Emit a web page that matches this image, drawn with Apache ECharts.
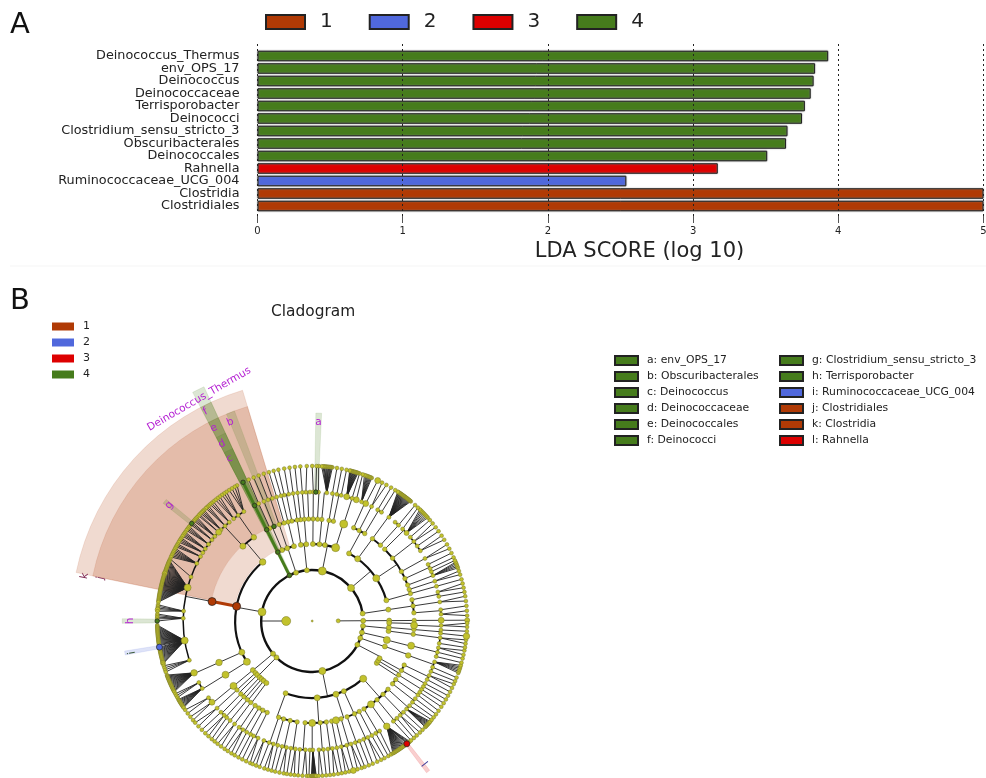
<!DOCTYPE html>
<html>
<head>
<meta charset="UTF-8">
<title>LDA score and cladogram</title>
<style>
  html, body { margin: 0; padding: 0; background: #fff; }
  #chart { width: 986px; height: 778px; }
</style>
<script src="https://cdn.jsdelivr.net/npm/echarts@6/dist/echarts.min.js"></script>
</head>
<body>
<div id="chart"></div>
<script>
// panel A
var barCategories = ['Deinococcus_Thermus','env_OPS_17','Deinococcus','Deinococcaceae','Terrisporobacter','Deinococci','Clostridium_sensu_stricto_3','Obscuribacterales','Deinococcales','Rahnella','Ruminococcaceae_UCG_004','Clostridia','Clostridiales'];
var barValues = [3.93,3.84,3.83,3.81,3.77,3.75,3.65,3.64,3.51,3.17,2.54,5,5];
var barGroups = ['4','4','4','4','4','4','4','4','4','3','2','1','1'];
var groupNames = ['1','2','3','4'];
var groupColors = ['#b03a05','#5068dc','#dd0000','#467c1c'];
var scoreTicks = [0,1,2,3,4,5];

// panel B legend
var cladeLegendLeft = ['a: env_OPS_17','b: Obscuribacterales','c: Deinococcus','d: Deinococcaceae','e: Deinococcales','f: Deinococci'];
var cladeLegendRight = ['g: Clostridium_sensu_stricto_3','h: Terrisporobacter','i: Ruminococcaceae_UCG_004','j: Clostridiales','k: Clostridia','l: Rahnella'];
var cladeLegendLeftColors = [3,3,3,3,3,3];
var cladeLegendRightColors = [3,3,1,0,0,2];

// radius of each taxonomic level (root .. genus), angle in degrees ccw from east
var levelRadius = [0,26,51,77,102,129,155];

// every row: [parent angle, [child angles]]
var kingdomRows = [[0,[180,0.3]]];
var phylumRows = [[180,[8.5,40.4,78.6,96,108.5,116.5,169.7,219.8,225.5,281.5,332.3,340.5,347,354.5]],[0.3,[0.3]]];
var classRows = [
  [8.5,[8.5]],[0.3,[0.3]],[354.5,[352.5,355.2,358.6]],[347,[345.7]],[340.5,[340.7]],[332.3,[327,329,331]],
  [40.4,[15.6,33.7,53.8,61.4]],[78.6,[72.3,80.5,84.6,89.5]],[96,[94.4,98.5]],[108.5,[103.7,108.9,113]],[116.5,[116.5]],
  [169.7,[130,169,204,212]],[219.8,[219.6,222.5]],[225.5,[224.5,227,229,231,233.5]],[281.5,[249.8,273.7,288,294.3,311.5]]
];
var orderRows = [
  [8.5,[4.6,8.5,12]],[0.3,[0.3]],[352.5,[352.5]],[355.2,[355.2]],[358.6,[357.6]],[345.7,[346]],[340.7,[340.3]],
  [331,[331,334.4]],[329,[328]],[327,[322,325]],[15.6,[15.6,18]],[33.7,[20.6,24.6,29,38,44.7]],[53.8,[48,53.8]],[61.4,[59,62.6,66]],
  [72.3,[72]],[80.5,[78,80.5]],[84.6,[84.6]],[89.5,[87,89.5,92]],[94.4,[94.4,96.5]],[98.5,[98.5,101.5]],[103.7,[103.7]],
  [108.9,[106,108.9]],[113,[112,114.5]],[116.5,[116.5]],[130,[124.9,132.8]],[169,[169]],[204,[204]],[212,[211.8]],
  [219.6,[219.5,222.5]],[222.5,[225.6]],[224.5,[228]],[227,[230.5]],[229,[233]],[231,[236]],[233.5,[238.5,241,243.8]],
  [249.8,[250.8,253.7,257.5,261.5]],[273.7,[266,270,274.5,278]],[288,[281,283.5,286.5]],[294.3,[290,294.5,297.5]],[311.5,[300.5,305.2,309.5,314,318]]
];
var familyRows = [
  [0.3,[0.3]],[4.6,[3,5]],[8.5,[8.5]],[12,[11,13]],[15.6,[15.6]],[18,[18]],[20.6,[20.6,22.5]],[24.6,[24,26]],[29,[29]],
  [38,[33,35.5,38,40.5]],[44.7,[43,45.5]],[48,[48,50]],[53.8,[53.5]],[59,[57.5,59.5]],[62.6,[62.6]],[66,[65.5,67.5]],
  [72,[70,72,74.5]],[78,[77,79]],[80.5,[81]],[84.6,[83.5]],[87,[87.2,88.4]],[89.5,[89.5]],[92,[91,92.8]],[94.4,[94.4]],
  [96.5,[96.5]],[98.5,[98.5]],[101.5,[100.5,102.5]],[103.7,[104]],[106,[106]],[108.9,[108,110]],[112,[112]],[114.5,[114.5]],[116.5,[116.5]],
  [124.9,[122,125,127.5]],[132.8,[130,132.5,135,136.5,139,141,143.5,146,148]],
  [169,[150,153.5,160,165,175.6,178.8,188.7,197.7]],[204,[203.7]],[211.8,[208.5,211.5]],[219.5,[216.5,219]],[222.5,[222.5]],
  [225.6,[225,227]],[228,[228.5]],[230.5,[230.5]],[233,[233]],[236,[235.5,237.5]],[238.5,[239.5]],[241,[241.5]],[243.8,[243,245.2]],
  [250.8,[248,250.5,252.5]],[253.7,[254.5]],[257.5,[256.5,258.5]],[261.5,[260.5,262.5]],[266,[264.5,267]],[270,[269,270.3]],
  [274.5,[273,275]],[278,[277,279]],[281,[281]],[283.5,[283,285.5]],[286.5,[287.5]],[290,[289.5,291.5]],[294.5,[293.5,295.5]],
  [297.5,[297.5]],[300.5,[299.5,301.5]],[305.2,[305.3]],[309.5,[309,311]],[314,[313,315]],[318,[317,319]],[322,[321,323]],
  [325,[325,326.5]],[328,[328,329.5]],[331,[331]],[334.4,[333,335]],[340.3,[337,339,341.5]],[346,[344,346,348]],[352.5,[350,352.5]],
  [355.2,[354.5,356]],[357.6,[358]]
];
var genusRows = [
  [0.3,[0.3]],[3,[2,3.8]],[5,[5.6]],[8.5,[7.4,9.2]],[11,[10.8]],[13,[12.4,14]],[15.6,[15.6]],[18,[17.4,18.8]],
  [20.6,[20,20.6,21.2,21.8,22.3]],[22.5,[23]],[24,[24.2]],[26,[26]],[29,[27.8,29.6]],[33,[31.6,33.4]],[35.5,[35.4]],
  [38,[37.2,39]],[40.5,[40.6]],[43,[41.8,42.4,43,43.6,44.2,44.8,45.4,46]],[45.5,[47]],[48,[48.4]],
  [53.5,[50.5,50.8,51.1,51.4,51.7,52,52.3,52.6,52.9,53.2,53.5,53.8,54.1,54.4,54.7,55,55.3,55.6,55.9,56.2,56.5]],
  [57.5,[57.6]],[59.5,[59.4]],[62.6,[61.4,63.2]],[65.5,[65]],[67.5,[67.4,67.8,68.2,68.6,69,69.4,69.8,70.3]],
  [70,[71]],[72,[72.2]],[74.5,[72.8,73.1,73.4,73.7,74,74.3,74.6,74.9,75.2,75.5,75.8,76]],[77,[77.2]],[79,[79]],[81,[80.8]],
  [83.5,[82.5,82.9,83.2,83.5,83.9,84.2,84.6,84.9,85.3,85.6,86,86.5]],[87.2,[87.6]],[88.4,[88.4]],[89.5,[90]],[92.8,[92]],
  [94.4,[94.4]],[96.5,[96.4]],[98.5,[98.4]],[100.5,[100.4]],[102.5,[102.6]],[104,[104.4]],[106,[106.2]],[108,[108.2]],
  [110,[110.2]],[112,[112.2]],[114.5,[114.2]],[116.5,[116.5]],
  [122,[119,120,121.2,122.4]],[125,[123.6,124.6,125.6]],[127.5,[126.6,127.6,128.6]],[130,[129.6,130.5,131.2]],[132.5,[132,132.7,133.3]],
  [135,[134.2,134.8,135.4,136]],[136.5,[136.6,137.2]],[139,[138,138.6,139.2,139.8]],[141,[140.4,141,141.6]],[143.5,[142.4,143,143.6,144.2]],
  [146,[145,145.6,146.2,146.8]],[148,[147.6,148.2,148.8,149.4]],[150,[150.2,150.8,151.4]],[153.5,[152,152.6,153.2,153.8,154.4,155,155.6]],[160,[156.4]],
  [165,[157,157.4,157.8,158.2,158.6,159,159.4,159.8,160.2,160.6,161,161.4,161.8,162.2,162.6,163,163.4,163.8,164.2,164.6,165,165.4,165.8,166.2,166.6,167,167.4,167.8,168.2,168.6,169,169.4,169.8,170.2,170.6,171,171.4,171.8,172.2,172.6,173]],
  [175.6,[174,174.6,175.2,175.8,176.4]],[178.8,[177.4,178,178.6,179.2,180]],
  [188.7,[181.5,181.9,182.3,182.7,183.1,183.5,183.9,184.3,184.7,185.1,185.5,185.9,186.3,186.7,187.1,187.5,187.9,188.3,188.7,189.1,189.7,190.1,190.5,190.9,191.3,191.7,192.1,192.5,192.9,193.3,193.7,194.1,194.5,194.9,195.3,195.7,196]],
  [197.7,[196.8,197.6,198.4,199.2]],
  [203.7,[200.4,200.8,201.2,201.6,202,202.4,202.8,203.2,203.6,204,204.4,204.8,205.2,205.6,206,206.4,206.8,207.2]],
  [208.5,[208,208.8,209.6]],[211.5,[210.4,210.8,211.2,211.6,212,212.4,212.8,213.2,213.6,214]],[216.5,[215,216.6]],[219,[218.2,219.8]],
  [222.5,[221,222.8]],[225,[224.6]],[227,[226.4,228]],[228.5,[229.6]],[230.5,[231]],[233,[232.4,234]],
  [235.5,[235.6]],[237.5,[237,238.6]],[239.5,[240]],[241.5,[241.6]],[243,[243.2]],
  [245.2,[244.8,246.4]],[248,[247.4,248.8]],[250.5,[250.2]],[252.5,[252,253.4]],[254.5,[254.8]],
  [256.5,[256.2]],[258.5,[257.8,259.4]],[260.5,[260.6]],[262.5,[262,263.4]],[264.5,[264.8]],[267,[266.4,268]],
  [269,[268.8]],[270.3,[269.7,269.9,270.1,270.3,270.5,270.7,270.9,271.1,271.3,271.5]],[273,[272.4,273.8]],[275,[275.2]],[277,[276.6]],
  [279,[278,279.6]],[281,[281]],[283,[282.4,283.8]],[285.5,[285.4]],[287.5,[287,288.6]],[289.5,[289.8]],
  [291.5,[291.4]],[293.5,[293]],[295.5,[294.8,296.4]],[297.5,[297.8]],[299.5,[299.4]],[301.5,[300.6]],
  [305.3,[301.4,301.8,302.2,302.6,303,303.4,303.8,304.2,304.6,305,305.4,305.8,306.2,306.6,307,307.6,307.9,308.2,308.6,309]],
  [309,[309.6]],[311,[311]],[313,[312.4,314]],[315,[315.4]],[317,[316.8,317.2,317.6,318,318.4,318.8,319.2,319.6]],[319,[320.4]],
  [321,[321.6]],[323,[323]],[325,[324.6]],[326.5,[326.4]],[328,[328]],[329.5,[329.6]],[331,[331.2]],[333,[332.8]],
  [335,[334.4,336]],[337,[337.2]],[339,[338.6]],[341.5,[340.4,341,341.6,342.2,342.8,343.4]],[344,[344.4]],[346,[346]],
  [348,[347.4,349]],[350,[350.2]],[352.5,[351.6,353]],[354.5,[354.4]],[356,[356.2]],[358,[357.8,359.2]]
];

var defaultNodeSize = [2,4,5,5,4.5,4,3.8];
// [level, angle, size] for the nodes that stand out
var largeNodes = [
  [1,180,9],[2,78.6,8],[2,40.4,7],[2,281.5,7],[2,169.7,8],
  [3,72.3,8],[3,130,6.5],[3,33.7,7],[3,311.5,7],[3,53.8,6],[3,345.7,7],[3,204,6],[3,212,7],[3,288,6],[3,273.7,6],
  [4,72,8],[4,357.6,7],[4,346,7],[4,305.2,7],[4,283.5,7],[4,270,7],[4,219.5,7],[4,211.8,7],[4,204,6.5],[4,340.3,5.5],[4,132.8,6],[4,124.9,5.5],
  [5,165,7],[5,188.7,7],[5,203.7,6.5],[5,305.3,6.5],[5,219,6],[5,136.5,6],[5,74.5,6],[5,65.5,6],[5,70,6],[5,0.3,6],[5,43,5],
  [6,354.4,6.5],[6,285.4,6],[6,65,6],[6,0.3,5],[6,195.7,5],[6,162.2,5],[6,175.8,5]
];
// [level, angle, colour index, size]
var cladeNodes = [
  [2,116.5,3,4.5],[3,116.5,3,4.5],[4,116.5,3,4.5],[5,116.5,3,4.5],[6,116.5,3,4.5],[4,112,3,4.5],[5,88.4,3,4.5],[6,141,3,4.5],[6,180,3,4.5],
  [6,189.7,1,6],[3,169,0,8],[4,169,0,8],[6,307.6,2,6]
];
// [from level, to level, angle, colour index]
var cladeLinks = [[2,6,116.5,3],[3,4,169,0]];
// [inner radius, outer radius, start angle, end angle, colour index]
var cladeWedges = [
  [79,241,106.8,168.4,0],[103,224,106.8,168.4,0],
  [51,258,114.8,117.6,3],[77,241,114.8,117.6,3],[102,224,114.8,117.6,3],[129,207,114.8,117.6,3],[155,190,114.8,117.6,3],
  [102,224,110.3,112.5,3],[129,208,87.4,89,3],[155,190,140.2,141.7,3],[155,190,179.3,180.7,3],[155,190,189.1,190.3,1],[155,190,307,308.2,2]
];
// [radius, angle, text, rotation]
var cladeLabels = [
  [199,88.2,'a',0],[215,112.4,'b',22],[182,117,'c',27],[198.6,117,'d',27],[216.5,117,'e',27],[235,117,'f',27],
  [184,141,'g',51],[182,180,'h',90],[183,190,'i',100],[216,168.5,'j',78],[232,168.8,'k',78],[182,307.8,'l',-52]
];
var phylumLabel = [249,117,'Deinococcus_Thermus',30];
var labelColors = { i: '#3c5a3a', j: '#7a1f4a', k: '#7a1f4a', l: '#3a3a9a' };

var fontName = '"DejaVu Sans", sans-serif';
var nodeSizeMap = {};
largeNodes.forEach(function (n) { nodeSizeMap[n[0] + '_' + n[1]] = n[2]; });

// [r1, a1, r2, a2]
var branchData = [];
var arcData = [];
var nodeData = [[levelRadius[0], 0, defaultNodeSize[0]]];
[kingdomRows, phylumRows, classRows, orderRows, familyRows, genusRows].forEach(function (rows, level) {
  rows.forEach(function (row) {
    var kids = row[1];
    var low = Math.min.apply(null, kids), high = Math.max.apply(null, kids);
    if (level === 5) {
      // genera fan straight out of the family node
      kids.forEach(function (a) { branchData.push([levelRadius[5], row[0], levelRadius[6], a]); });
    } else if (level > 0) {
      branchData.push([levelRadius[level], row[0], levelRadius[level + 1], row[0]]);
      if (high > low) arcData.push([levelRadius[level + 1], low, high, level]);
    }
    kids.forEach(function (a) {
      var key = (level + 1) + '_' + a;
      nodeData.push([levelRadius[level + 1], a, nodeSizeMap[key] || defaultNodeSize[level + 1]]);
    });
  });
});
var arcWidths = [0, 2.4, 2.4, 2.2, 1.9, 1.5, 0.7];

var myChart = echarts.init(document.getElementById('chart'));

function barSeries() {
  return groupNames.map(function (name, i) {
    return {
      name: name, type: 'bar', stack: 'lda', xAxisIndex: 0, yAxisIndex: 0, barWidth: 10.5,
      itemStyle: { color: groupColors[i], borderColor: '#222', borderWidth: 1, shadowColor: '#888', shadowBlur: 1.5 },
      data: barValues.map(function (v, k) { return barGroups[k] === name ? v : null; })
    };
  });
}

function emptyLegendSeries(names, colorIdx) {
  return names.map(function (name, i) {
    return {
      name: name, type: 'custom', coordinateSystem: 'polar', data: [],
      itemStyle: { color: groupColors[colorIdx[i]], borderColor: '#222', borderWidth: 1 },
      renderItem: function () { return null; }
    };
  });
}

var labelRows = cladeLabels.concat([phylumLabel]);

var series = barSeries().concat([
  {
    type: 'custom', coordinateSystem: 'polar', silent: true, z: 1,
    data: cladeWedges.map(function (w) { return [w[1], w[2], w[0], w[3], w[4]]; }),
    renderItem: function (params, api) {
      var c = params.coordSys;
      var outer = api.coord([api.value(0), 0])[2];
      var inner = api.coord([api.value(2), 0])[2];
      var col = groupColors[api.value(4)];
      return {
        type: 'sector',
        shape: { cx: c.cx, cy: c.cy, r0: inner, r: outer, clockwise: true,
          startAngle: -api.value(3) * Math.PI / 180, endAngle: -api.value(1) * Math.PI / 180 },
        style: { fill: col, opacity: 0.19, stroke: col, lineWidth: 0.6 }
      };
    }
  },
  {
    type: 'custom', coordinateSystem: 'polar', silent: true, z: 2,
    data: branchData,
    renderItem: function (params, api) {
      var a = api.coord([api.value(0), api.value(1)]);
      var b = api.coord([api.value(2), api.value(3)]);
      return { type: 'line', shape: { x1: a[0], y1: a[1], x2: b[0], y2: b[1] }, style: { stroke: '#222', lineWidth: 0.9 } };
    }
  },
  {
    type: 'custom', coordinateSystem: 'polar', silent: true, z: 3,
    data: arcData,
    renderItem: function (params, api) {
      var c = params.coordSys;
      return {
        type: 'arc',
        shape: { cx: c.cx, cy: c.cy, r: api.coord([api.value(0), 0])[2], clockwise: true,
          startAngle: -api.value(2) * Math.PI / 180, endAngle: -api.value(1) * Math.PI / 180 },
        style: { fill: null, stroke: '#111', lineWidth: arcWidths[api.value(3) + 1] }
      };
    }
  },
  {
    type: 'custom', coordinateSystem: 'polar', silent: true, z: 4,
    data: cladeLinks.map(function (l) { return [levelRadius[l[0]], l[2], levelRadius[l[1]], l[3]]; }),
    renderItem: function (params, api) {
      var a = api.coord([api.value(0), api.value(1)]);
      var b = api.coord([api.value(2), api.value(1)]);
      return { type: 'line', shape: { x1: a[0], y1: a[1], x2: b[0], y2: b[1] }, style: { stroke: groupColors[api.value(3)], lineWidth: 3 } };
    }
  },
  {
    type: 'scatter', coordinateSystem: 'polar', silent: true, z: 5, animation: false,
    symbolSize: function (v) { return v[2]; },
    itemStyle: { color: '#c2c22c', borderColor: '#77772a', borderWidth: 0.5, opacity: 1 },
    data: nodeData
  },
  {
    type: 'scatter', coordinateSystem: 'polar', silent: true, z: 6, animation: false,
    symbolSize: function (v) { return v[2]; },
    itemStyle: { color: function (p) { return groupColors[p.value[3]]; }, borderColor: '#222', borderWidth: 0.7, opacity: 1 },
    data: cladeNodes.map(function (n) { return [levelRadius[n[0]], n[1], n[3], n[2]]; })
  },
  {
    type: 'custom', coordinateSystem: 'polar', silent: true, z: 7,
    data: labelRows.map(function (l) { return [l[0], l[1]]; }),
    renderItem: function (params, api) {
      var row = labelRows[params.dataIndex];
      var p = api.coord([api.value(0), api.value(1)]);
      return {
        type: 'text', x: p[0], y: p[1], rotation: row[3] * Math.PI / 180,
        style: { text: row[2], fill: labelColors[row[2]] || '#b41fd2', font: '10.5px ' + fontName, align: 'center', verticalAlign: 'middle' }
      };
    }
  }
]).concat(emptyLegendSeries(cladeLegendLeft, cladeLegendLeftColors)).concat(emptyLegendSeries(cladeLegendRight, cladeLegendRightColors));

var option = {
  backgroundColor: '#fff',
  animation: false,
  textStyle: { fontFamily: fontName },
  graphic: [
    { type: 'text', left: 10, top: 11, style: { text: 'A', font: '29px ' + fontName, fill: '#111' } },
    { type: 'text', left: 10, top: 287, style: { text: 'B', font: '29px ' + fontName, fill: '#111' } },
    { type: 'text', left: 271, top: 304, style: { text: 'Cladogram', font: '15.4px ' + fontName, fill: '#222' } },
    { type: 'line', shape: { x1: 10, y1: 266, x2: 986, y2: 266 }, style: { stroke: '#f5f5f5', lineWidth: 1 } }
  ],
  legend: [
    { data: groupNames, left: 265, top: 12, padding: 0, itemWidth: 39, itemHeight: 14, itemGap: 36, icon: 'rect',
      textStyle: { fontSize: 20, color: '#222', padding: [3, 0, 0, 10] }, selectedMode: false },
    { data: groupNames, orient: 'vertical', left: 52, top: 321, padding: 0, itemWidth: 22, itemHeight: 8, itemGap: 5, icon: 'rect',
      itemStyle: { borderWidth: 0 }, textStyle: { fontSize: 11, color: '#222', padding: [0, 0, 0, 4] }, selectedMode: false },
    { data: cladeLegendLeft, orient: 'vertical', left: 614, top: 355, padding: 0, itemWidth: 23, itemHeight: 9, itemGap: 5, icon: 'rect',
      textStyle: { fontSize: 10.8, color: '#222', padding: [0, 0, 0, 4] }, selectedMode: false },
    { data: cladeLegendRight, orient: 'vertical', left: 779, top: 355, padding: 0, itemWidth: 23, itemHeight: 9, itemGap: 5, icon: 'rect',
      textStyle: { fontSize: 10.8, color: '#222', padding: [0, 0, 0, 4] }, selectedMode: false }
  ],
  grid: [
    { left: 257.5, width: 726, top: 49.75, height: 162.5, outerBoundsMode: 'none' },
    { left: 257.5, width: 726, top: 44, height: 179, outerBoundsMode: 'none' }
  ],
  xAxis: [
    { type: 'value', gridIndex: 0, min: 0, max: 5, show: false },
    {
      type: 'value', gridIndex: 1, min: 0, max: 5, interval: 1, z: 5,
      name: 'LDA SCORE (log 10)', nameLocation: 'middle', nameGap: 18,
      nameTextStyle: { fontSize: 21, color: '#222', padding: [0, 0, 0, 38] },
      axisLine: { show: false },
      axisTick: { show: true, inside: true, length: 7, lineStyle: { color: '#555', width: 1 } },
      axisLabel: { margin: 3, fontSize: 10, color: '#222', hideOverlap: false,
        formatter: function (v) { return scoreTicks.indexOf(v) >= 0 ? String(v) : ''; } },
      splitLine: { show: true, lineStyle: { color: '#222', width: 1, type: [2, 3] } }
    }
  ],
  yAxis: [
    {
      type: 'category', gridIndex: 0, data: barCategories, inverse: true,
      axisLine: { show: false }, axisTick: { show: false },
      axisLabel: { margin: 18, fontSize: 12.8, color: '#222', interval: 0 }
    },
    { type: 'value', gridIndex: 1, min: 0, max: 1, show: false }
  ],
  polar: { center: [312.2, 621], radius: 262 },
  radiusAxis: { min: 0, max: 262, show: false },
  angleAxis: { min: 0, max: 360, startAngle: 0, clockwise: false, show: false },
  series: series
};
myChart.setOption(option);
</script>
</body>
</html>
